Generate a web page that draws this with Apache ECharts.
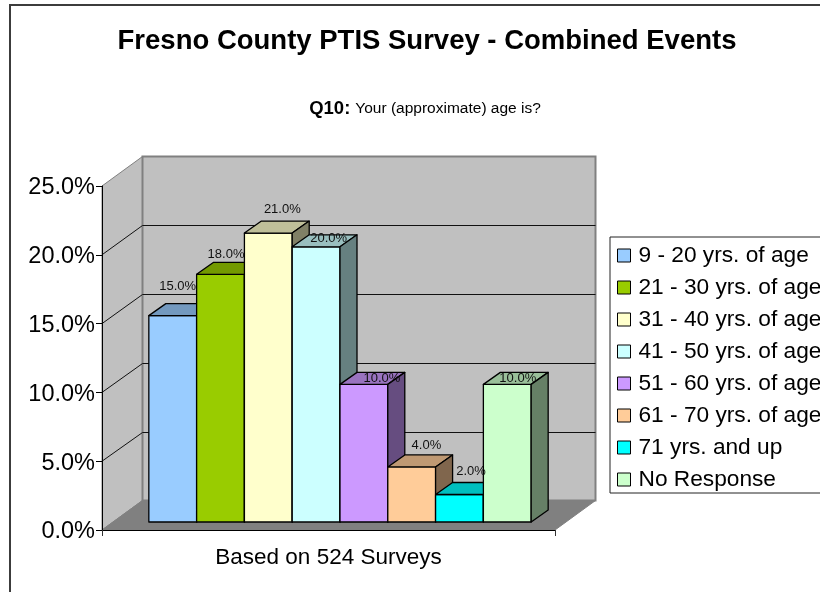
<!DOCTYPE html>
<html><head><meta charset="utf-8">
<style>html,body{margin:0;padding:0;background:#fff}#c{width:820px;height:592px}</style>
<script src="https://cdn.jsdelivr.net/npm/echarts@6/dist/echarts.min.js"></script>
</head><body><div id="c"></div>
<script>
const categories = ["Based on 524 Surveys"];
const ageGroups = ["9 - 20 yrs. of age","21 - 30 yrs. of age","31 - 40 yrs. of age","41 - 50 yrs. of age","51 - 60 yrs. of age","61 - 70 yrs. of age","71 yrs. and up","No Response"];
const values = [15, 18, 21, 20, 10, 4, 2, 10];
const yTicks = [0, 5, 10, 15, 20, 25];
const colors = ["#99ccff","#99cc00","#ffffcc","#ccffff","#cc99ff","#ffcc99","#00ffff","#ccffcc"];
const labelNudge = [[5,-29],[5.5,-20],[14,-24],[12.5,-8],[18,-6],[14.7,-22],[11.5,-23],[10.5,-6]];
const FONT = '"Liberation Sans", Arial, sans-serif';

const WALL_DX = 40.5, WALL_DY = -29.5;
const BAR_OX = 11.5, BAR_OY = -8, BAR_DX = 17, BAR_DY = -12;
const BAR_SHARE = 0.1055;

function shade(hex, k) {
  const n = parseInt(hex.slice(1), 16);
  const c = [n >> 16, (n >> 8) & 255, n & 255].map(v => Math.round(v * k));
  return 'rgb(' + c.join(',') + ')';
}

function renderWalls(params, api) {
  const size = api.size([1, 0])[0];
  const cx = api.coord([0, 0])[0];
  const x0 = cx - size / 2, x1 = cx + size / 2;
  const y0 = api.coord([0, 0])[1];
  const yTop = api.coord([0, yTicks[yTicks.length - 1]])[1];
  const bx0 = x0 + WALL_DX, bx1 = x1 + WALL_DX;
  const gray = '#808080', wall = '#c0c0c0';
  const kids = [
    { type: 'polygon', shape: { points: [[x0, y0], [bx0, y0 + WALL_DY], [bx0, yTop + WALL_DY], [x0, yTop]] },
      style: { fill: wall, stroke: gray, lineWidth: 1 } },
    { type: 'polygon', shape: { points: [[bx0, y0 + WALL_DY], [bx1, y0 + WALL_DY], [bx1, yTop + WALL_DY], [bx0, yTop + WALL_DY]] },
      style: { fill: wall, stroke: gray, lineWidth: 2 } },
    { type: 'polygon', shape: { points: [[x0, y0], [x1, y0], [bx1, y0 + WALL_DY], [bx0, y0 + WALL_DY]] },
      style: { fill: gray, stroke: gray, lineWidth: 1 } }
  ];
  yTicks.slice(1, -1).forEach(t => {
    const y = api.coord([0, t])[1];
    const yb = Math.round(y + WALL_DY) + 0.5;
    kids.push({ type: 'polyline', shape: { points: [[x0, y], [bx0, yb], [bx1, yb]] },
      style: { fill: null, stroke: '#111', lineWidth: 1 } });
  });
  return { type: 'group', children: kids };
}

function renderBar(i) {
  return function (params, api) {
    const size = api.size([1, 0])[0];
    const w = size * BAR_SHARE;
    const base = api.coord([0, 0]);
    const top = api.coord([0, api.value(1)]);
    const xl = base[0] - 4 * w + i * w + BAR_OX, xr = xl + w;
    const yb = base[1] + BAR_OY, yt = top[1] + BAR_OY;
    const c = colors[i];
    const edge = { stroke: '#000', lineWidth: 1.3, lineJoin: 'round' };
    return { type: 'group', children: [
      { type: 'polygon', shape: { points: [[xl, yb], [xr, yb], [xr, yt], [xl, yt]] }, style: { fill: c, ...edge } },
      { type: 'polygon', shape: { points: [[xl, yt], [xr, yt], [xr + BAR_DX, yt + BAR_DY], [xl + BAR_DX, yt + BAR_DY]] }, style: { fill: shade(c, 0.75), ...edge } },
      { type: 'polygon', shape: { points: [[xr, yb], [xr + BAR_DX, yb + BAR_DY], [xr + BAR_DX, yt + BAR_DY], [xr, yt]] }, style: { fill: shade(c, 0.5), ...edge } },
      { type: 'text', z2: 50, style: { text: api.value(1).toFixed(1) + '%', x: (xl + xr) / 2 + labelNudge[i][0], y: yt + labelNudge[i][1],
          fill: '#111', font: '13px ' + FONT, align: 'center', verticalAlign: 'middle' } }
    ] };
  };
}

const chart = echarts.init(document.getElementById('c'), null, { renderer: 'canvas' });
chart.setOption({
  animation: false,
  backgroundColor: '#fff',
  title: [
    { text: 'Fresno County PTIS Survey - Combined Events', left: 422, top: 22, textAlign: 'center',
      textStyle: { fontFamily: FONT, fontSize: 27.5, fontWeight: 'bold', color: '#000' } },
    { text: '{b|Q10:} {n|Your (approximate) age is?}', left: 420, top: 94, textAlign: 'center',
      textStyle: { fontWeight: 'normal', rich: {
        b: { fontFamily: FONT, fontSize: 18.5, fontWeight: 'bold', color: '#000' },
        n: { fontFamily: FONT, fontSize: 15.5, fontWeight: 'normal', color: '#000' } } } }
  ],
  graphic: [{ type: 'rect', z: -1, silent: true, shape: { x: 10, y: 5, width: 900, height: 700 },
    style: { fill: 'none', stroke: '#3c3c3c', lineWidth: 2 } }],
  legend: {
    orient: 'vertical', left: 610, top: 237,
    data: ageGroups,
    padding: [6, 10, 1, 7],
    borderColor: '#222', borderWidth: 1, backgroundColor: '#fff',
    itemWidth: 13, itemHeight: 13, itemGap: 7, icon: 'rect',
    itemStyle: { borderColor: '#000', borderWidth: 1 },
    textStyle: { fontFamily: FONT, fontSize: 22.7, color: '#000', padding: [0, 0, 0, 3], lineHeight: 25 },
    selectedMode: false
  },
  grid: { left: 102, right: 265, top: 186, bottom: 62, containLabel: false },
  xAxis: { type: 'category', data: categories, z: 4,
    axisLine: { lineStyle: { color: '#000', width: 1 } },
    axisTick: { show: true, length: 6, lineStyle: { color: '#333' } },
    axisLabel: { fontFamily: FONT, fontSize: 22.5, color: '#000', margin: 16 } },
  yAxis: { type: 'value', min: 0, max: 25, interval: 5, z: 4,
    axisLine: { show: true, lineStyle: { color: '#000', width: 1 } },
    axisTick: { show: true, length: 6, lineStyle: { color: '#000' } },
    splitLine: { show: false },
    axisLabel: { margin: 7, formatter: v => '{a|' + v.toFixed(1) + '%}',
      rich: { a: { fontFamily: FONT, fontSize: 23.5, color: '#000', padding: [4, 0, 0, 0] } } } },
  series: [
    { type: 'custom', name: 'walls', coordinateSystem: 'cartesian2d', z: 1, silent: true, renderItem: renderWalls, data: [[0, 0]], encode: { x: 0, y: 1 } },
    ...ageGroups.map((name, i) => ({
      type: 'custom', name, coordinateSystem: 'cartesian2d', z: 2, silent: true,
      itemStyle: { color: colors[i] }, renderItem: renderBar(i),
      data: [[0, values[i]]], encode: { x: 0, y: 1 }
    }))
  ]
});
</script></body></html>
